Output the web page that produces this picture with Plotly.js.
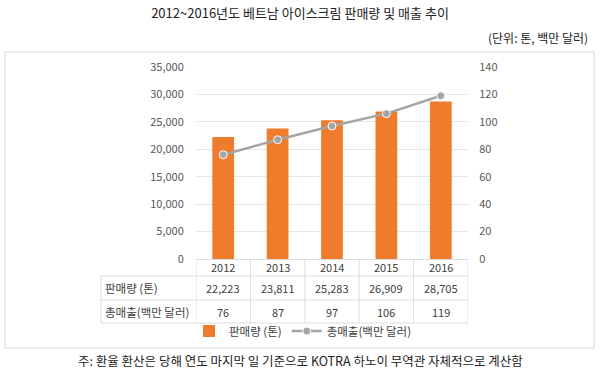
<!DOCTYPE html>
<html>
<head>
<meta charset="utf-8">
<script src="https://cdn.plot.ly/plotly-3.0.1.min.js"></script>
<style>html,body{margin:0;padding:0;background:#fff;}#chart{width:600px;height:376px;}</style>
</head>
<body>
<div id="chart"></div>
<script>
const years = ['2012', '2013', '2014', '2015', '2016'];
const salesVolume = [22223, 23811, 25283, 26909, 28705];
const revenue = [76, 87, 97, 106, 119];
const seriesNames = ['판매량 (톤)', '총매출(백만 달러)'];
const titleText = '2012~2016년도 베트남 아이스크림 판매량 및 매출 추이';
const unitText = '(단위: 톤, 백만 달러)';
const noteText = '주: 환율 환산은 당해 연도 마지막 일 기준으로 KOTRA 하노이 무역관 자체적으로 계산함';

const W = 600, H = 376;
const L = 196, R = 468, T = 67, B = 259;
const px2x = p => (p - L) / (R - L);
const py2y = p => (B - p) / (B - T);
const FONT = '"Noto Sans CJK KR", "Noto Sans", sans-serif';
const gridC = '#E6E6E6';
const tableC = '#DDDDDD';
const textC = '#404040';

const traces = [
  {
    type: 'bar', name: seriesNames[0], x: years, y: salesVolume,
    marker: {color: '#EF7B2C'}, width: 0.4, yaxis: 'y', hoverinfo: 'none'
  },
  {
    type: 'scatter', mode: 'lines+markers', name: seriesNames[1], x: years, y: revenue,
    yaxis: 'y2', line: {color: '#A5A5A5', width: 2.5},
    marker: {color: '#A5A5A5', size: 8, line: {color: '#FFFFFF', width: 1}}, hoverinfo: 'none'
  }
];

const shapes = [];
const annotations = [];
// outer border
shapes.push({type: 'rect', xref: 'paper', yref: 'paper', x0: px2x(5), x1: px2x(594), y0: py2y(348), y1: py2y(52),
  line: {color: '#D9D9D9', width: 1}, layer: 'below'});
// table vertical lines
for (let i = 0; i <= years.length; i++) {
  shapes.push({type: 'line', xref: 'x', yref: 'paper', x0: i - 0.5, x1: i - 0.5, y0: py2y(259), y1: py2y(323),
    line: {color: tableC, width: 1}});
}
shapes.push({type: 'line', xref: 'paper', yref: 'paper', x0: px2x(101), x1: px2x(101), y0: py2y(276), y1: py2y(323),
  line: {color: tableC, width: 1}});
[276, 300, 323].forEach(p => {
  shapes.push({type: 'line', xref: 'paper', yref: 'paper', x0: px2x(101), x1: 1, y0: py2y(p), y1: py2y(p),
    line: {color: tableC, width: 1}});
});
// table text
const rows = [
  {label: seriesNames[0], vals: salesVolume.map(v => v.toLocaleString('en-US')), py: 288},
  {label: seriesNames[1], vals: revenue.map(v => String(v)), py: 312}
];
years.forEach((yr, i) => {
  annotations.push({xref: 'x', yref: 'paper', x: i, y: py2y(267), text: yr, showarrow: false,
    xanchor: 'center', yanchor: 'middle', font: {family: FONT, size: 11, color: textC}});
});
rows.forEach(r => {
  annotations.push({xref: 'paper', yref: 'paper', x: px2x(103), y: py2y(r.py), text: r.label, showarrow: false,
    xanchor: 'left', yanchor: 'middle', font: {family: FONT, size: 11.5, color: textC}});
  r.vals.forEach((v, i) => {
    annotations.push({xref: 'x', yref: 'paper', x: i, y: py2y(r.py), text: v, showarrow: false,
      xanchor: 'center', yanchor: 'middle', font: {family: FONT, size: 11, color: textC}});
  });
});
annotations.push({xref: 'paper', yref: 'paper', x: px2x(590), y: py2y(37), text: unitText, showarrow: false,
  xanchor: 'right', yanchor: 'middle', font: {family: FONT, size: 12, color: '#222'}});
annotations.push({xref: 'paper', yref: 'paper', x: px2x(300), y: py2y(360), text: noteText, showarrow: false,
  xanchor: 'center', yanchor: 'middle', font: {family: FONT, size: 12.5, color: '#222'}});

const layout = {
  width: W, height: H,
  margin: {l: L, r: W - R, t: T, b: H - B, pad: 0},
  paper_bgcolor: '#FFFFFF', plot_bgcolor: '#FFFFFF',
  title: {text: titleText, x: 0.5, xref: 'container', y: 1 - 13 / H, yref: 'container', xanchor: 'center', yanchor: 'middle',
    font: {family: FONT, size: 13, color: '#222'}},
  font: {family: FONT},
  showlegend: true,
  legend: {orientation: 'h', x: px2x(303), xanchor: 'center', y: py2y(331), yanchor: 'middle',
    font: {family: FONT, size: 11.5, color: textC}, bgcolor: 'rgba(0,0,0,0)', traceorder: 'normal', itemwidth: 30},
  bargap: 0.6,
  xaxis: {type: 'category', showticklabels: false, showgrid: false, zeroline: false, showline: false, ticks: '',
    range: [-0.5, 4.5], fixedrange: true},
  yaxis: {range: [0, 35000], dtick: 5000, tickformat: ',d', showgrid: true, gridcolor: gridC, gridwidth: 1,
    zeroline: true, zerolinecolor: tableC, zerolinewidth: 1, showline: false,
    ticks: 'outside', ticklen: 9, tickcolor: 'rgba(0,0,0,0)',
    tickfont: {family: FONT, size: 11, color: '#595959'}, fixedrange: true},
  yaxis2: {overlaying: 'y', side: 'right', range: [0, 140], dtick: 20, showgrid: false, zeroline: false, showline: false,
    ticks: 'outside', ticklen: 8, tickcolor: 'rgba(0,0,0,0)',
    tickfont: {family: FONT, size: 11, color: '#595959'}, fixedrange: true},
  shapes: shapes,
  annotations: annotations
};

Plotly.newPlot('chart', traces, layout, {displayModeBar: false, staticPlot: true});
</script>
</body>
</html>
